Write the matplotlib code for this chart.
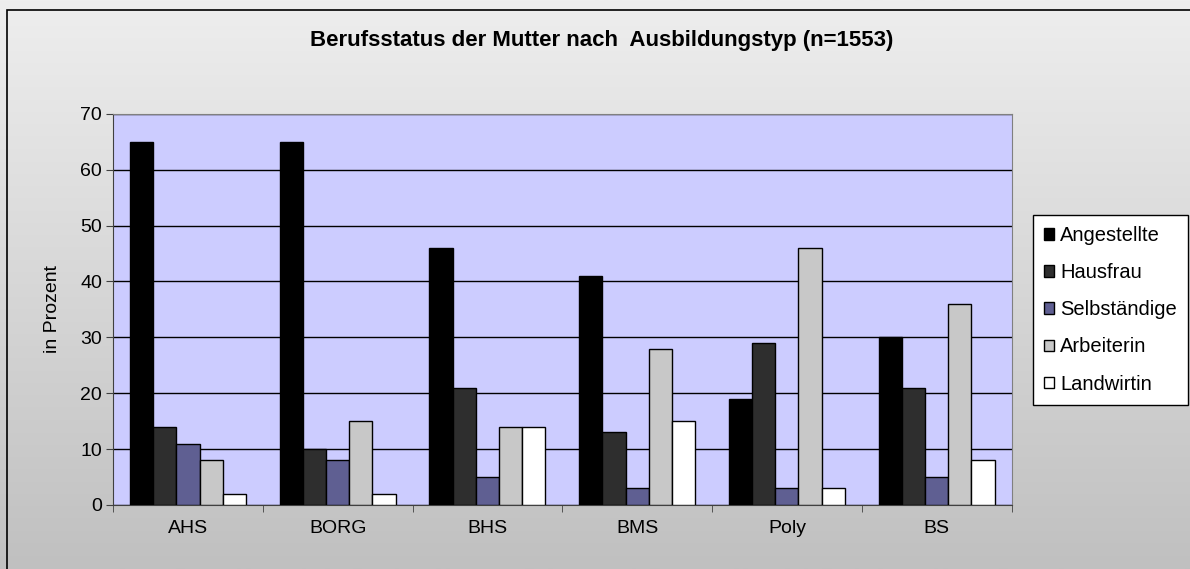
import numpy as np
import matplotlib.pyplot as plt
from matplotlib.patches import Rectangle
from matplotlib.colors import LinearSegmentedColormap

# data
schools = ["AHS", "BORG", "BHS", "BMS", "Poly", "BS"]
series = ["Angestellte", "Hausfrau", "Selbständige", "Arbeiterin", "Landwirtin"]
angestellte = [65, 65, 46, 41, 19, 30]
hausfrau = [14, 10, 21, 13, 29, 21]
selbstaendige = [11, 8, 5, 3, 3, 5]
arbeiterin = [8, 15, 14, 28, 46, 36]
landwirtin = [2, 2, 14, 15, 3, 8]
colors = ["#000000", "#2e2e2e", "#5f5f92", "#c8c8c8", "#ffffff"]

plt.rcParams['font.family'] = ['Liberation Sans', 'DejaVu Sans']

fig = plt.figure(figsize=(11.9, 5.69), dpi=100)

# grey gradient background
bg = fig.add_axes([0, 0, 1, 1], zorder=-10)
grad = np.linspace(0, 1, 256).reshape(-1, 1)
bg.imshow(grad, aspect="auto", cmap=LinearSegmentedColormap.from_list("g", ["#eeeeee", "#c0c0c0"]),
          extent=[0, 1, 0, 1], origin="upper")
bg.set_xlim(0, 1)
bg.set_ylim(0, 1)
bg.axis("off")
bg.add_patch(Rectangle((7 / 1190, -0.1), 1.1, 1 - 10 / 569 + 0.1, fill=False,
                       edgecolor="black", linewidth=1.2))

ax = fig.add_axes([0.095, 0.1125, 0.755, 0.6875])
ax.set_facecolor("#ccccff")

x = np.arange(len(schools))
width = 0.155
values = [angestellte, hausfrau, selbstaendige, arbeiterin, landwirtin]
for i, (name, vals) in enumerate(zip(series, values)):
    ax.bar(x + (i - 2) * width, vals, width, color=colors[i], edgecolor="black",
           linewidth=1.0, label=name, zorder=3)

ax.set_xlim(-0.5, len(schools) - 0.5)
ax.set_ylim(0, 70)
ax.set_yticks(np.arange(0, 71, 10))
ax.yaxis.grid(True, color="black", linewidth=1.0, zorder=1)
ax.set_axisbelow(True)
ax.set_xticks(x)
ax.set_xticklabels(schools)
ax.set_xticks(np.arange(-0.5, len(schools), 1), minor=True)
ax.tick_params(axis="x", which="major", length=0, pad=11, labelsize=14)
ax.tick_params(axis="x", which="minor", length=5, direction="out", color="#404040")
ax.tick_params(axis="y", length=5, direction="out", labelsize=14, color="#404040", pad=3)
for s in ["left", "bottom"]:
    ax.spines[s].set_color("#404040")
for s in ["top", "right"]:
    ax.spines[s].set_color("#808080")
ax.set_ylabel("in Prozent", fontsize=14, labelpad=14)

fig.text(0.5055, 0.928, "Berufsstatus der Mutter nach  Ausbildungstyp (n=1553)",
         ha="center", va="center", fontsize=16, fontweight="bold")

leg = ax.legend(loc="upper left", bbox_to_anchor=(1033 / 1190, 1 - 215 / 569),
                bbox_transform=fig.transFigure, fontsize=14.5, frameon=True, framealpha=1,
                fancybox=False, edgecolor="black", facecolor="white",
                handlelength=0.5, handleheight=0.5,
                handletextpad=0.3, labelspacing=0.9, borderpad=0.55, borderaxespad=0)
leg.get_frame().set_linewidth(1.0)

fig.savefig("out.png", dpi=100)
